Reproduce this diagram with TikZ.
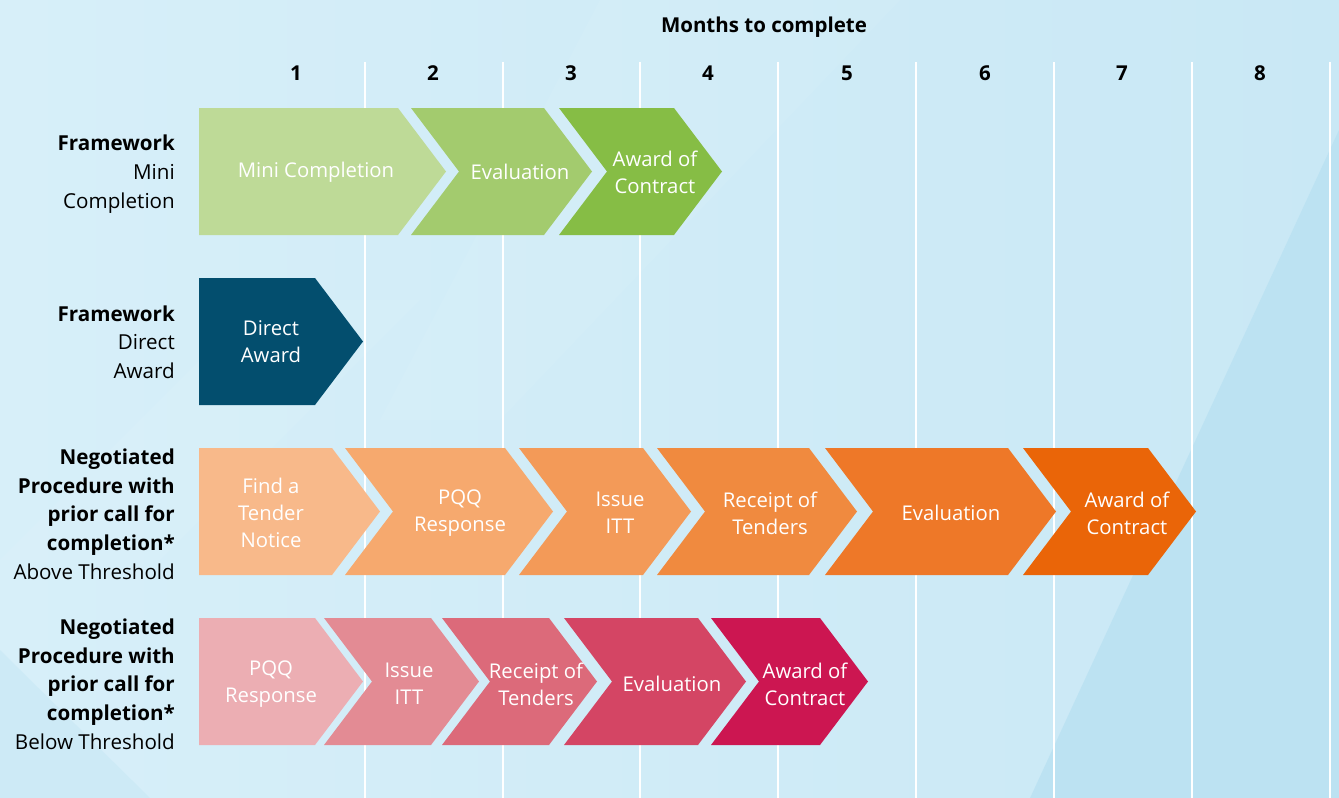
\documentclass[tikz,border=0pt]{standalone}
\usepackage{fontspec}
\setmainfont{Open Sans}
\definecolor{bgA}{HTML}{D7EFF9}
\definecolor{bgB}{HTML}{C9E8F5}
\definecolor{bgC}{HTML}{B9E1F2}
\definecolor{gA}{HTML}{BEDA97}
\definecolor{gB}{HTML}{A3CB6E}
\definecolor{gC}{HTML}{86BD45}
\definecolor{dB}{HTML}{034E6E}
\definecolor{oA}{HTML}{F8B98A}
\definecolor{oB}{HTML}{F6A96E}
\definecolor{oC}{HTML}{F39A58}
\definecolor{oD}{HTML}{F08A3F}
\definecolor{oE}{HTML}{EE7828}
\definecolor{oF}{HTML}{EA6508}
\definecolor{pA}{HTML}{ECAEB3}
\definecolor{pB}{HTML}{E38B94}
\definecolor{pC}{HTML}{DC6A7A}
\definecolor{pD}{HTML}{D44564}
\definecolor{pE}{HTML}{CC1651}
\newcommand\flatchev[4]{\fill[#4] (#1,#3) -- (#2,#3) -- ({#2+48},{#3+63.5}) -- (#2,{#3+127}) -- (#1,{#3+127}) -- cycle;}
\newcommand\notchchev[4]{\fill[#4] (#1,#3) -- (#2,#3) -- ({#2+48},{#3+63.5}) -- (#2,{#3+127}) -- (#1,{#3+127}) -- ({#1+48},{#3+63.5}) -- cycle;}
\begin{document}
\begin{tikzpicture}[x=1pt,y=-1pt,
  chevtext/.style={text=white,align=center,font=\fontsize{20.3}{27}\selectfont,inner sep=0pt},
  rowlabel/.style={anchor=east,align=right,font=\fontsize{20.6}{28.7}\selectfont,inner sep=0pt},
  monthnum/.style={font=\bfseries\fontsize{20.5}{24}\selectfont,inner sep=0pt},
  colline/.style={draw=white,line width=2.5pt}]
\useasboundingbox (0,0) rectangle (1339,798);
% background
\shade[left color=bgA,right color=bgB] (0,0) rectangle (1339,798);
\fill[bgC,opacity=0.8] (1339,130) -- (1339,798) -- (1030,798) -- cycle;
\fill[white,opacity=0.06] (0,560) -- (260,300) -- (420,300) -- (160,560) -- cycle;
\fill[white,opacity=0.06] (600,0) -- (900,0) -- (500,420) -- (380,420) -- cycle;
\fill[bgC,opacity=0.3] (0,798) -- (0,650) -- (150,798) -- cycle;
% title and month numbers
\node[font=\bfseries\fontsize{20.5}{24}\selectfont,inner sep=0pt] (title) at (764,27) {Months to complete};
\foreach \i/\x in {1/296,2/433,3/571,4/708,5/847,6/985,7/1122,8/1260}
  \node[monthnum] (m\i) at (\x,73) {\i};
% column lines
\foreach \x [count=\k] in {365,503,640,778,916,1054,1192,1330}
  {\coordinate (lt\k) at (\x,62); \coordinate (lb\k) at (\x,798); \draw[colline] (lt\k) -- (lb\k);}
% row 1
\flatchev{199}{398}{108}{gA}
\notchchev{411}{544}{108}{gB}
\notchchev{559}{674}{108}{gC}
\node[chevtext] (r1a) at (316,172) {Mini Completion};
\node[chevtext] (r1b) at (520,172) {Evaluation};
\node[chevtext] (r1c) at (655,172) {Award of\\Contract};
% row 2
\flatchev{199}{315}{278}{dB}
\node[chevtext] (r2a) at (271,342) {Direct\\Award};
% row 3
\flatchev{199}{332}{448}{oA}
\notchchev{345}{505}{448}{oB}
\notchchev{519}{643}{448}{oC}
\notchchev{657}{809}{448}{oD}
\notchchev{825}{1008}{448}{oE}
\notchchev{1023}{1148}{448}{oF}
\node[chevtext] (r3a) at (271,513) {Find a\\Tender\\Notice};
\node[chevtext] (r3b) at (460,513) {PQQ\\Response};
\node[chevtext] (r3c) at (620,513) {Issue\\ITT};
\node[chevtext] (r3d) at (770,513) {Receipt of\\Tenders};
\node[chevtext] (r3e) at (951,513) {Evaluation};
\node[chevtext] (r3f) at (1127,513) {Award of\\Contract};
% row 4
\flatchev{199}{315}{618}{pA}
\notchchev{324}{431}{618}{pB}
\notchchev{442}{549}{618}{pC}
\notchchev{564}{698}{618}{pD}
\notchchev{711}{820}{618}{pE}
\node[chevtext] (r4a) at (271,684) {PQQ\\Response};
\node[chevtext] (r4b) at (409,684) {Issue\\ITT};
\node[chevtext] (r4c) at (536,684) {Receipt of\\Tenders};
\node[chevtext] (r4d) at (672,684) {Evaluation};
\node[chevtext] (r4e) at (805,684) {Award of\\Contract};
% row labels
\node[rowlabel] (l1) at (175,174) {\textbf{Framework}\\Mini\\Completion};
\node[rowlabel] (l2) at (175,342) {\textbf{Framework}\\Direct\\Award};
\node[rowlabel] (l3) at (175,514) {\textbf{Negotiated}\\\textbf{Procedure with}\\\textbf{prior call for}\\\textbf{completion*}\\Above Threshold};
\node[rowlabel] (l4) at (175,684) {\textbf{Negotiated}\\\textbf{Procedure with}\\\textbf{prior call for}\\\textbf{completion*}\\Below Threshold};
\end{tikzpicture}
\end{document}
